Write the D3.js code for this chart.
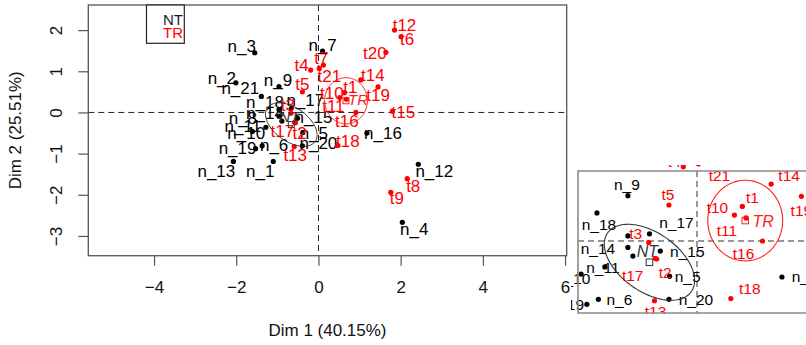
<!DOCTYPE html>
<html><head><meta charset="utf-8">
<script src="https://cdn.jsdelivr.net/npm/d3@7"></script>
<style>
body{margin:0;background:#fff}
svg{display:block}
text{font-family:"Liberation Sans",Arial,Helvetica,sans-serif}
</style>
</head><body>
<svg id="chart" width="806" height="345"></svg>
<script>
// ---------------- data ----------------
const groupNames = ["NT", "TR"];
const axisTitles = ["Dim 1 (40.15%)", "Dim 2 (25.51%)"];
const xTicks = [-4, -2, 0, 2, 4, 6];
const yTicks = [-3, -2, -1, 0, 1, 2];

const ntNames = ["n_1","n_2","n_3","n_4","n_5","n_6","n_7","n_8","n_9","n_10","n_11",
                 "n_12","n_13","n_14","n_15","n_16","n_17","n_18","n_19","n_20","n_21"];
const ntDim1 = [-1.10,-2.01,-1.55,2.04,-0.38,-1.37,0.10,-0.89,-0.96,-1.61,-1.28,
                2.43,-2.07,-0.96,-0.51,1.18,-0.66,-0.96,-1.53,-0.39,-1.39];
const ntDim2 = [-1.19,0.72,1.45,-2.67,-0.49,-0.81,1.49,-0.21,0.63,-0.46,-0.36,
                -1.26,-1.19,-0.09,-0.14,-0.50,0.10,0.07,-0.88,-0.81,0.39];

const trNames = ["t1","t2","t3","t4","t5","t6","t7","t8","t9","t10","t11",
                 "t12","t13","t14","t15","t16","t17","t18","t19","t20","t21"];
const trDim1 = [0.63,-0.58,-0.67,-0.19,-0.39,2.01,0.12,2.16,1.76,0.52,0.68,
                1.85,-0.59,1.03,1.80,0.91,-0.56,0.47,1.45,1.64,0.02];
const trDim2 = [0.48,-0.24,-0.02,1.03,0.50,1.84,1.15,-1.61,-1.94,0.36,0.32,
                2.00,-0.83,0.79,0.03,0.00,-0.25,-0.80,0.62,1.46,1.07];

// confidence ellipses (semi-axes in Dim units, orientation of first axis in degrees)
const ellipseAxis1 = [0.71, 0.56];
const ellipseAxis2 = [0.41, 0.52];
const ellipseAngle = [-35, 90];

// ---------------- layout (label placement, px offsets from the point) ----------------
const ntLabelMain = [[-13,10],[-14,-4],[-13,-6],[12,7],[11,1],[12,0],[0,-6],[-39,-3],[-1,-6],[-6,2],[-23,-1],
                     [16,7],[-17,10],[-14,-3],[16,-1],[16,0],[14,-8],[-14,-7],[-18,0],[16,-2],[-21,-8]];
const trLabelMain = [[6,-5],[5,11],[-3,-8],[-9,-5],[0,-7],[6,3],[-2,-7],[6,8],[6,6],[-8,-4],[-13,7],
                     [10,-5],[1,9],[12,-4],[11,1],[-9,9],[-13,9],[10,-4],[0,9],[-11,1],[10,8]];
const ntLabelInset = [[-13,10],[-14,-4],[-13,-6],[12,7],[18,0],[21,0],[0,-6],null,[-1,-11],[-8,4],[-2,1],
                      [16,7],[-17,10],[-30,1],[27,0],[27,0],[27,-11],[-29,-11],[-20,0],[27,0],[-36,-11]];
const trLabelInset = [[10,-9],[10,14],[-13,-9],[-9,-5],[-1,-10],[6,3],[-2,-7],[6,8],[6,6],[-17,-8],[-19,13],
                      [10,-5],[1,11],[18,-9],[11,1],[-19,13],[-24,17],[19,-10],[0,14],[-11,1],[21,12]];
const centroidLabelMain = [[-2,-8],[12,-1]];
const centroidLabelInset = [[-2,-11],[18,1]];

const COLORS = ["#000000", "#ff0000"];
const FONT = '"Liberation Sans",Arial,Helvetica,sans-serif';
const INSET_CLIP = {x: 571, y: 165, w: 240, h: 149};

// ---------------- build ----------------
const svg = d3.select("#chart");
const groups = [
  {name: groupNames[0], names: ntNames, xs: ntDim1, ys: ntDim2, color: COLORS[0], ellColor: "#333333",
   lm: ntLabelMain, li: ntLabelInset},
  {name: groupNames[1], names: trNames, xs: trDim1, ys: trDim2, color: COLORS[1], ellColor: "#ff2020",
   lm: trLabelMain, li: trLabelInset}
];
groups.forEach((g, gi) => {
  g.pts = g.names.map((n, i) => ({name: n, x: g.xs[i], y: g.ys[i], lm: g.lm[i], li: g.li[i]}));
  g.cx = d3.mean(g.xs); g.cy = d3.mean(g.ys);
  g.a = ellipseAxis1[gi]; g.b = ellipseAxis2[gi]; g.th = ellipseAngle[gi] * Math.PI / 180;
  g.clm = centroidLabelMain[gi]; g.cli = centroidLabelInset[gi];
});

function ellipsePts(g) {
  return d3.range(0, 361, 3).map(t => {
    const r = t * Math.PI / 180;
    const u = g.a * Math.cos(r), v = g.b * Math.sin(r);
    return [g.cx + u * Math.cos(g.th) - v * Math.sin(g.th),
            g.cy + u * Math.sin(g.th) + v * Math.cos(g.th)];
  });
}

function drawPanel(layer, x, y, o) {
  const [x0, x1] = x.range(), [y0, y1] = y.range();
  const inView = (px, py, m) => !o.view || (px > o.view.x - m && px < o.view.x + o.view.w + m &&
                                             py > o.view.y - m && py < o.view.y + o.view.h + m);
  layer.append("line").attr("x1", x(0)).attr("x2", x(0)).attr("y1", Math.min(y0,y1)).attr("y2", Math.max(y0,y1))
    .attr("stroke", o.dashColor).attr("stroke-width", 1).attr("stroke-dasharray", "6,4");
  layer.append("line").attr("x1", x0).attr("x2", x1).attr("y1", y(0)).attr("y2", y(0))
    .attr("stroke", o.dashColor).attr("stroke-width", 1).attr("stroke-dasharray", "6,4");

  groups.forEach(g => {
    layer.selectAll(null).data(g.pts.filter(d => inView(x(d.x), y(d.y), 3))).enter().append("circle")
      .attr("cx", d => x(d.x)).attr("cy", d => y(d.y)).attr("r", o.r).attr("fill", g.color);
    const lab = d => (o.inset ? d.li : d.lm);
    layer.selectAll(null)
      .data(g.pts.filter(d => lab(d) && inView(x(d.x) + lab(d)[0], y(d.y) + lab(d)[1], 5))).enter().append("text")
      .attr("x", d => x(d.x) + lab(d)[0])
      .attr("y", d => y(d.y) + lab(d)[1])
      .attr("text-anchor", "middle").attr("dominant-baseline", "central")
      .attr("font-size", o.fs).attr("fill", g.color).text(d => d.name);
  });
  groups.forEach(g => {
    layer.append("path").datum(ellipsePts(g))
      .attr("d", d3.line().x(d => x(d[0])).y(d => y(d[1])))
      .attr("fill", "none").attr("stroke", g.ellColor).attr("stroke-width", o.ellW);
    layer.append("rect").attr("x", x(g.cx) - o.sq / 2).attr("y", y(g.cy) - o.sq / 2)
      .attr("width", o.sq).attr("height", o.sq).attr("fill", "none")
      .attr("stroke", g.ellColor).attr("stroke-width", 1);
    const off = o.inset ? g.cli : g.clm;
    layer.append("text").attr("x", x(g.cx) + off[0]).attr("y", y(g.cy) + off[1])
      .attr("text-anchor", "middle").attr("dominant-baseline", "central")
      .attr("font-size", o.cfs).attr("font-style", "italic").attr("fill", g.ellColor).text(g.name);
  });
}

// ---------- main panel ----------
const x = d3.scaleLinear().domain([-5.6, 6.04]).range([88.3, 566.7]);
const y = d3.scaleLinear().domain([-3.48, 2.61]).range([255.7, 5]);
const main = svg.append("g");
drawPanel(main, x, y, {r: 2.6, fs: 17, cfs: 15, sq: 6, ellW: 1, dashColor: "#222", inset: false});

main.append("rect").attr("x", 88.3).attr("y", 5).attr("width", 566.7 - 88.3).attr("height", 255.7 - 5)
  .attr("fill", "none").attr("stroke", "#555").attr("stroke-width", 1.3);

const xAxis = main.append("g").attr("transform", "translate(0,255.7)")
  .call(d3.axisBottom(x).tickValues(xTicks).tickSize(10).tickFormat(d3.format("d")));
xAxis.select(".domain").remove();
xAxis.selectAll("line").attr("stroke", "#555").attr("stroke-width", 1.2);
xAxis.selectAll("text").attr("font-size", 17).attr("font-family", FONT).attr("fill", "#111")
  .attr("dy", null).attr("dominant-baseline", "central").attr("y", 32.3);

const yAxis = main.append("g").attr("transform", "translate(88.3,0)")
  .call(d3.axisLeft(y).tickValues(yTicks).tickSize(10).tickFormat(d3.format("d")));
yAxis.select(".domain").remove();
yAxis.selectAll("line").attr("stroke", "#555").attr("stroke-width", 1.2);
yAxis.selectAll("text").attr("font-size", 17).attr("font-family", FONT).attr("fill", "#111")
  .attr("x", null).attr("dy", null).attr("text-anchor", "middle").attr("dominant-baseline", "central")
  .attr("transform", "translate(-31.5,0) rotate(-90)");

main.append("text").attr("x", 327.5).attr("y", 330).attr("text-anchor", "middle")
  .attr("dominant-baseline", "central").attr("font-size", 17).attr("fill", "#111").text(axisTitles[0]);
main.append("text").attr("transform", "translate(15,130.3) rotate(-90)").attr("text-anchor", "middle")
  .attr("dominant-baseline", "central").attr("font-size", 17).attr("fill", "#111").text(axisTitles[1]);

// legend
const leg = main.append("g");
leg.append("rect").attr("x", 146.5).attr("y", 5).attr("width", 37.8).attr("height", 38.3)
  .attr("fill", "#fff").attr("stroke", "#222").attr("stroke-width", 1.2);
groupNames.forEach((n, i) => {
  leg.append("text").attr("x", 183).attr("y", 19.3 + i * 13).attr("text-anchor", "end")
    .attr("dominant-baseline", "central").attr("font-size", 15)
    .attr("fill", i === 0 ? "#1a1a2e" : COLORS[i]).text(n);
});

// ---------- inset (zoom of the central area) ----------
const defs = svg.append("defs");
defs.append("clipPath").attr("id", "insetClip").append("rect")
  .attr("x", INSET_CLIP.x).attr("y", INSET_CLIP.y).attr("width", INSET_CLIP.w).attr("height", INSET_CLIP.h);
const xi = d3.scaleLinear().domain([-1.653, 1.510]).range([578, 805.7]);
const yi = d3.scaleLinear().domain([-1.0, 0.972]).range([313, 171]);
const inset = svg.append("g").attr("clip-path", "url(#insetClip)");
drawPanel(inset, xi, yi, {r: 2.6, fs: 15.5, cfs: 16, sq: 6.5, ellW: 1.1, dashColor: "#333", inset: true,
                          view: INSET_CLIP});
svg.append("path").attr("d", "M812,171 H578 V313 H812")
  .attr("fill", "none").attr("stroke", "#8a8a8a").attr("stroke-width", 1.6);
</script>
</body></html>
